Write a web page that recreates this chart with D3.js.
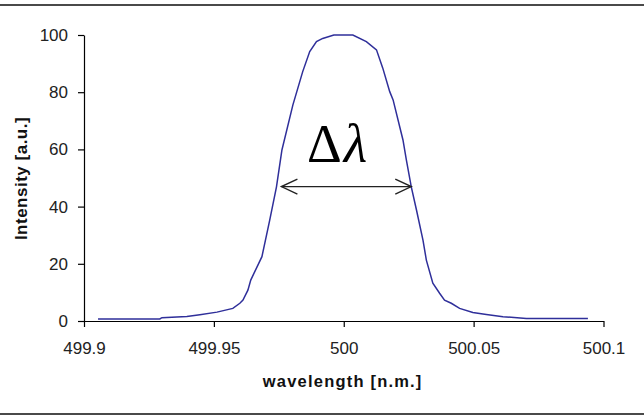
<!DOCTYPE html>
<html>
<head>
<meta charset="utf-8">
<script src="https://cdn.jsdelivr.net/npm/d3@7"></script>
<style>
  body { margin: 0; background: #fff; }
  svg { display: block; }
</style>
</head>
<body>
<div id="chart"></div>
<script>
// line profile
var wavelength = [499.9054, 499.9292, 499.930, 499.9396, 499.9446, 499.9512, 499.9573, 499.960,
    499.9612, 499.9631, 499.9642, 499.9685, 499.9715, 499.9741, 499.9762, 499.9804, 499.9842,
    499.9869, 499.9895, 499.9919, 499.9962, 500.0035, 500.0087, 500.0126, 500.015, 500.0177,
    500.019, 500.0228, 500.0241, 500.026, 500.028, 500.0305, 500.0318, 500.0343, 500.0369,
    500.0388, 500.0414, 500.0446, 500.0497, 500.0549, 500.0613, 500.0703, 500.094];
var intensity = [0.7, 0.7, 1.15, 1.6, 2.2, 3.1, 4.4, 6.2,
    7.3, 10.8, 14.3, 22.5, 35.3, 46.9, 59.8, 75.5, 87.2,
    94.2, 97.7, 98.8, 100, 100, 97.7, 94.8, 88.5, 80.2,
    77.3, 63.3, 56.3, 46.9, 38.8, 28.3, 21.3, 13.2, 9.7,
    7.3, 6.2, 4.4, 3.0, 2.3, 1.5, 0.9, 0.9];

var xTicks = [499.9, 499.95, 500, 500.05, 500.1];
var xTickLabels = ["499.9", "499.95", "500", "500.05", "500.1"];
var yTicks = [0, 20, 40, 60, 80, 100];

// FWHM arrow: ends (nm) and height (a.u.)
var fwhmEnds = [499.976, 500.026];
var fwhmLevel = 47;

var width = 644, height = 419;

var svg = d3.select("#chart").append("svg")
    .attr("width", width)
    .attr("height", height);

var x = d3.scaleLinear().domain([499.9, 500.1]).range([84, 603.5]);
var y = d3.scaleLinear().domain([0, 100]).range([321, 35]);

// frame lines top and bottom
svg.append("line")
    .attr("x1", 0).attr("x2", width).attr("y1", 5).attr("y2", 5)
    .style("stroke", "#4a4a4a").style("stroke-width", 2);
svg.append("line")
    .attr("x1", 0).attr("x2", width).attr("y1", 414).attr("y2", 414)
    .style("stroke", "#4a4a4a").style("stroke-width", 2);

svg.append("g")
    .attr("transform", "translate(0," + y(0) + ")")
    .call(d3.axisBottom(x).tickValues(xTicks)
        .tickFormat(function (d, i) { return xTickLabels[i]; })
        .tickSize(6).tickSizeOuter(0).tickPadding(15));

svg.append("g")
    .attr("transform", "translate(" + x(499.9) + ",0)")
    .call(d3.axisLeft(y).tickValues(yTicks)
        .tickSize(6).tickSizeOuter(0).tickPadding(10));

svg.selectAll(".tick text")
    .style("font-family", "'Liberation Sans', Arial, sans-serif")
    .style("font-size", "17px")
    .style("fill", "#222");
svg.selectAll(".domain, .tick line")
    .style("stroke", "#000")
    .style("stroke-width", 1.2);

// axis titles
svg.append("text")
    .attr("x", 342.7).attr("y", 387)
    .attr("text-anchor", "middle")
    .style("font-family", "'Liberation Sans', Arial, sans-serif")
    .style("font-weight", "bold")
    .style("font-size", "16.5px")
    .style("letter-spacing", "1.2px")
    .style("fill", "#111")
    .text("wavelength [n.m.]");

svg.append("text")
    .attr("transform", "translate(27,178.5) rotate(-90)")
    .attr("text-anchor", "middle")
    .style("font-family", "'Liberation Sans', Arial, sans-serif")
    .style("font-weight", "bold")
    .style("font-size", "17px")
    .style("letter-spacing", "0.5px")
    .style("fill", "#111")
    .text("Intensity [a.u.]");

// spectral line
var line = d3.line()
    .x(function (d, i) { return x(wavelength[i]); })
    .y(function (d) { return y(d); });

svg.append("path")
    .datum(intensity)
    .attr("d", line)
    .style("fill", "none")
    .style("stroke", "#2f2f9a")
    .style("stroke-width", 1.5);

// double arrow for the width
var ay = y(fwhmLevel), ax1 = x(fwhmEnds[0]), ax2 = x(fwhmEnds[1]);
var arrow = svg.append("g")
    .style("stroke", "#222")
    .style("stroke-width", 1.4)
    .style("fill", "none");
arrow.append("line").attr("x1", ax1).attr("x2", ax2).attr("y1", ay).attr("y2", ay);
arrow.append("polyline")
    .attr("points", (ax1 + 16) + "," + (ay - 7.5) + " " + ax1 + "," + ay + " " + (ax1 + 16) + "," + (ay + 7.5));
arrow.append("polyline")
    .attr("points", (ax2 - 16) + "," + (ay - 7.5) + " " + ax2 + "," + ay + " " + (ax2 - 16) + "," + (ay + 7.5));

var label = svg.append("text")
    .attr("x", 307).attr("y", 162)
    .style("font-family", "'Liberation Serif', 'Times New Roman', serif")
    .style("font-size", "54px")
    .style("fill", "#000");
label.append("tspan").text("Δ");
label.append("tspan").attr("dx", 2).style("font-style", "italic").text("λ");
</script>
</body>
</html>
